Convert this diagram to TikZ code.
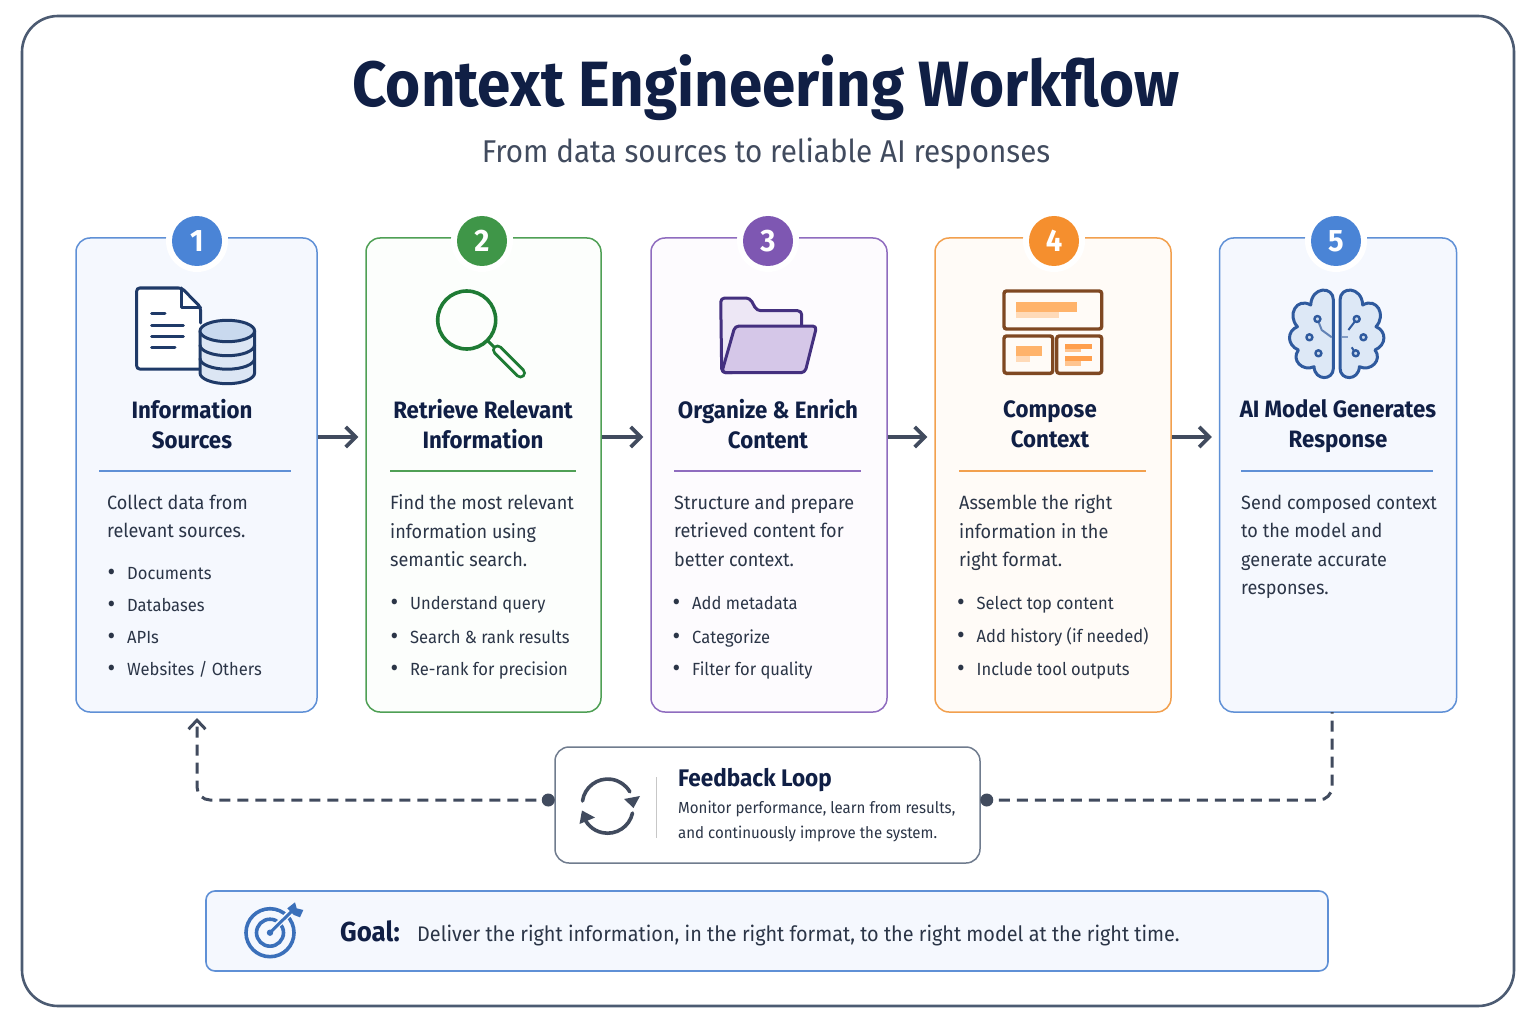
\documentclass[tikz,border=0pt]{standalone}
\usepackage{fontspec}
\setmainfont{Fira Sans}[FakeStretch=0.94]
\usetikzlibrary{arrows.meta,calc}
\definecolor{ink}{HTML}{101F45}
\definecolor{body}{HTML}{2B3547}
\definecolor{slate}{HTML}{414B5E}
\definecolor{frame}{HTML}{4C5B72}
\definecolor{cblue}{HTML}{5F90D6}
\definecolor{cgreen}{HTML}{4FA055}
\definecolor{cpurple}{HTML}{8F6CBF}
\definecolor{corange}{HTML}{F2A04E}
\definecolor{bblue}{HTML}{4A84D6}
\definecolor{bgreen}{HTML}{3F9648}
\definecolor{bpurple}{HTML}{7E57B2}
\definecolor{borange}{HTML}{F58F2E}
\definecolor{iconnavy}{HTML}{1F3A68}
\definecolor{icongreen}{HTML}{1E7B34}
\definecolor{iconpurple}{HTML}{44307F}
\definecolor{iconbrown}{HTML}{7F4822}
\definecolor{iconblue}{HTML}{2F5A9E}
\definecolor{goalblue}{HTML}{3B70BA}
\definecolor{fillblue}{HTML}{F5F8FE}
\definecolor{fillgreen}{HTML}{FCFEFC}
\definecolor{fillpurple}{HTML}{FDFBFE}
\definecolor{fillorange}{HTML}{FFFBF7}
\definecolor{barstrong}{HTML}{FFB36B}
\definecolor{barsoft}{HTML}{FFDAB8}
\definecolor{barmid}{HTML}{FF9F4D}
\definecolor{barpale}{HTML}{FFC48F}
\definecolor{folderback}{HTML}{EDE7F5}
\definecolor{folderfront}{HTML}{D5C7E8}
\definecolor{cylbody}{HTML}{DCE6F4}
\definecolor{cyltop}{HTML}{C9D9EE}
\definecolor{brainfill}{HTML}{DDE8F6}
\tikzset{
  x=1pt,y=-1pt,
  cardbox/.style={draw=#1,line width=1.5pt,rounded corners=14pt,inner sep=0},
  badge/.style={circle,fill=#1,minimum size=50pt,inner sep=0,text=white,font=\fontsize{31}{31}\selectfont\bfseries},
  halo/.style={circle,fill=white,minimum size=62pt,inner sep=0},
  head/.style={align=center,inner sep=0,text=ink,font=\fontsize{23.7}{30}\selectfont\bfseries,
    execute at begin node=\rule{0pt}{19pt},execute at end node=\rule[-7pt]{0pt}{7pt}},
  descr/.style={align=left,anchor=north west,inner sep=0,text=body,font=\fontsize{19.2}{28.6}\selectfont,
    execute at begin node=\rule{0pt}{16pt}},
  item/.style={anchor=base west,inner sep=0,text=body,font=\fontsize{17.6}{20}\selectfont},
  rule/.style={line width=1.5pt,draw=#1},
  flow/.style={draw=slate,line width=3.8pt,-{Straight Barb[length=10pt,width=20pt,line width=3.6pt]},shorten >=7pt},
  loopline/.style={draw=slate,line width=3pt,dash pattern=on 11pt off 7pt,rounded corners=13pt},
  endpoint/.style={circle,fill=slate,minimum size=13pt,inner sep=0},
}
\newcommand{\bitem}[4]{\node[item] (#1) at (#2,#3) {\makebox[19.5pt][l]{\raisebox{-1.5pt}{\fontsize{25}{20}\selectfont •}}#4};}
\begin{document}
\begin{tikzpicture}
\useasboundingbox (0,0) rectangle (1536,1024);
\fill[white] (0,0) rectangle (1536,1024);
\draw[frame,line width=2.6pt,fill=white,rounded corners=36pt] (22,16) rectangle (1514,1006);

\node[anchor=base,inner sep=0,text=ink,font=\fontsize{64}{64}\selectfont\bfseries] (title) at (766,107) {Context Engineering Workflow};
\node[anchor=base,inner sep=0,text=slate,font=\fontsize{31.5}{32}\selectfont] (subtitle) at (766,163) {From data sources to reliable AI responses};

% cards
\node[cardbox=cblue,fill=fillblue,minimum width=241pt,minimum height=474pt] (c1) at (196.5,475) {};
\node[cardbox=cgreen,fill=fillgreen,minimum width=235pt,minimum height=474pt] (c2) at (483.5,475) {};
\node[cardbox=cpurple,fill=fillpurple,minimum width=236pt,minimum height=474pt] (c3) at (769,475) {};
\node[cardbox=corange,fill=fillorange,minimum width=236pt,minimum height=474pt] (c4) at (1053,475) {};
\node[cardbox=cblue,fill=fillblue,minimum width=237pt,minimum height=474pt] (c5) at (1338,475) {};

% badges
\node[halo] (h1) at (197,241) {};
\node[halo] (h2) at (482,241) {};
\node[halo] (h3) at (768,241) {};
\node[halo] (h4) at (1054,241) {};
\node[halo] (h5) at (1336,241) {};
\node[badge=bblue] (b1) at (197,241) {1};
\node[badge=bgreen] (b2) at (482,241) {2};
\node[badge=bpurple] (b3) at (768,241) {3};
\node[badge=borange] (b4) at (1054,241) {4};
\node[badge=bblue] (b5) at (1336,241) {5};

% icon 1: document and database
\begin{scope}[line width=3pt,line join=round,line cap=round]
\draw[iconnavy,fill=white,rounded corners=3pt] (200.5,323) -- (200.5,307) -- (181.7,288) -- (136.7,288) -- (136.7,369) -- (199,369);
\draw[iconnavy] (181.7,288) -- (181.7,307) -- (200.5,307);
\draw[iconnavy] (151.7,313.3) -- (165,313.3) (151.7,325) -- (183.3,325) (151.7,336.3) -- (183.3,336.3) (151.7,347.3) -- (175,347.3);
\draw[iconnavy,fill=cylbody] (200,331) -- (200,373) arc[start angle=180,end angle=0,x radius=27.3,y radius=10.7] -- (254.6,331);
\draw[iconnavy,fill=cyltop] (227.3,331) ellipse[x radius=27.3,y radius=10.7];
\draw[iconnavy] (200,345) arc[start angle=180,end angle=0,x radius=27.3,y radius=10.7];
\draw[iconnavy] (200,358.5) arc[start angle=180,end angle=0,x radius=27.3,y radius=10.7];
\end{scope}

% icon 2: magnifier
\draw[icongreen,line width=3.6pt] (466.7,320) circle[radius=29];
\draw[icongreen,line width=3pt] (488,341) -- (498,351);
\draw[icongreen,line width=11pt,line cap=round] (497.5,350) -- (520.5,373);
\draw[white,line width=5pt,line cap=round] (497.5,350) -- (520.5,373);

% icon 3: folder
\begin{scope}[line width=3pt,line join=round]
\draw[iconpurple,fill=folderback,rounded corners=4pt] (721.7,372.7) -- (720.7,298) -- (750,298) -- (756.7,310.7) -- (801.7,310.7) -- (801.7,330) -- (735,372.7) -- cycle;
\draw[iconpurple,fill=folderfront,rounded corners=4pt] (735,326) -- (816.7,326) -- (805,372.7) -- (721.7,372.7) -- cycle;
\end{scope}

% icon 4: layout
\begin{scope}[line width=3.4pt]
\draw[iconbrown,rounded corners=2.5pt] (1004,291) rectangle (1101.7,329);
\draw[iconbrown,rounded corners=2.5pt] (1004,336) rectangle (1052.7,373.3);
\draw[iconbrown,rounded corners=2.5pt] (1056.7,336) rectangle (1101.7,373.3);
\end{scope}
\fill[barstrong] (1016,302.3) rectangle (1076.7,311.7);
\fill[barsoft] (1016,311.7) rectangle (1059.3,318.3);
\fill[barstrong] (1016,346) rectangle (1042.3,356);
\fill[barsoft] (1016,356) rectangle (1030,362.3);
\fill[barmid] (1065,344) rectangle (1092.3,349);
\fill[barpale] (1065,349) rectangle (1080.7,352.3);
\fill[barmid] (1065,356) rectangle (1092.3,360.7);
\fill[barpale] (1065,360.7) rectangle (1080.7,365.7);

% icon 5: brain
\begin{scope}[shift={(1336.7,0)},line width=3pt,line join=round]
\foreach \s in {1,-1}{
\begin{scope}[xscale=\s]
\draw[iconblue,fill=brainfill] (-3.3,300) .. controls (-3.3,286) and (-25,286) .. (-26,305)
  .. controls (-40,297) and (-50,315) .. (-39.3,326.7)
  .. controls (-50,331) and (-50,345) .. (-38.3,350)
  .. controls (-46,360) and (-34,372) .. (-22.7,366.7)
  .. controls (-22,381) and (-3.3,381) .. (-3.3,368) -- cycle;
\end{scope}}
\draw[iconblue!75,line width=2pt] (-19.3,319) -- (-15,330) -- (-5,337.3);
\draw[iconblue,line width=2pt] (20,319) -- (11.7,330);
\draw[iconblue!60,line width=2.4pt] (5,337) -- (11.7,337);
\draw[iconblue,line width=2pt] (19,353.3) -- (15,347.3);
\foreach \p in {(-19.3,319),(-27.3,337.3),(-18.3,353.3),(20,319),(26.7,337.3),(19,353.3)}{
  \draw[iconblue,fill=cyltop,line width=2.4pt] \p circle[radius=3];
}
\end{scope}

% headings
\node[head] (t1) at (192,427) {Information\\Sources};
\node[head] (t2) at (483,427) {Retrieve Relevant\\Information};
\node[head] (t3) at (768,427) {Organize \& Enrich\\Content};
\node[head] (t4) at (1050,428) {Compose\\Context};
\node[head] (t5) at (1338,427) {AI Model Generates\\Response};

\draw[rule=cblue] (99,471) -- (291,471);
\draw[rule=cgreen] (390,471) -- (576,471);
\draw[rule=cpurple] (674,471) -- (861,471);
\draw[rule=corange] (959,471) -- (1146,471);
\draw[rule=cblue] (1241,471) -- (1433,471);

% descriptions
\node[descr] (d1) at (107,494.5) {Collect data from\\relevant sources.};
\node[descr] (d2) at (390,494.5) {Find the most relevant\\information using\\semantic search.};
\node[descr] (d3) at (674,494.5) {Structure and prepare\\retrieved content for\\better context.};
\node[descr] (d4) at (959,494.5) {Assemble the right\\information in the\\right format.};
\node[descr] (d5) at (1241,494.5) {Send composed context\\to the model and\\generate accurate\\responses.};

% bullets
\bitem{i11}{107.5}{579}{Documents}
\bitem{i12}{107.5}{611}{Databases}
\bitem{i13}{107.5}{643}{APIs}
\bitem{i14}{107.5}{675}{Websites / Others}
\bitem{i21}{390.5}{609}{Understand query}
\bitem{i22}{390.5}{643}{Search \& rank results}
\bitem{i23}{390.5}{675}{Re-rank for precision}
\bitem{i31}{672.5}{609}{Add metadata}
\bitem{i32}{672.5}{643}{Categorize}
\bitem{i33}{672.5}{675}{Filter for quality}
\bitem{i41}{957}{609}{Select top content}
\bitem{i42}{957}{642}{Add history (if needed)}
\bitem{i43}{957}{675}{Include tool outputs}

% flow arrows
\coordinate (flowy) at (0,437);
\draw[flow] (c1.east |- flowy) -- (c2.west |- flowy);
\draw[flow] (c2.east |- flowy) -- (c3.west |- flowy);
\draw[flow] (c3.east |- flowy) -- (c4.west |- flowy);
\draw[flow] (c4.east |- flowy) -- (c5.west |- flowy);

% feedback
\node[draw=frame!80,line width=1.5pt,fill=white,rounded corners=14pt,minimum width=425pt,minimum height=116pt,inner sep=0] (fb) at (767.5,805) {};
\coordinate (fbl) at (fb.west |- 0,800);
\coordinate (fbr) at (fb.east |- 0,800);
\coordinate (c1b) at (197,712);
\coordinate (c5b) at (1332,712);
\draw[loopline,-{Straight Barb[length=9pt,width=17pt,line width=3pt]},shorten >=6pt] (fbl) -| (c1b);
\draw[loopline] (fbr) -| (c5b);
\node[endpoint,xshift=-6pt] (dl) at (fbl) {};
\node[endpoint,xshift=6pt] (dr) at (fbr) {};

\begin{scope}[line width=3.6pt,line cap=round]
\draw[slate] (582.5,801) arc[start angle=-172,end angle=-30,radius=25.5];
\draw[slate] (632.5,813) arc[start angle=12,end angle=165,radius=25.5];
\fill[slate] (624,799) -- (640,796) -- (633.5,808) -- cycle;
\fill[slate] (582,810.5) -- (579.5,824) -- (595,817.5) -- cycle;
\end{scope}
\draw[black!22,line width=1.2pt] (656.7,777) -- (656.7,838);
\node[item,text=ink,font=\fontsize{24}{26}\selectfont\bfseries] (fbt) at (678,786) {Feedback Loop};
\node[item,font=\fontsize{16}{18}\selectfont] (fb1) at (678,813) {Monitor performance, learn from results,};
\node[item,font=\fontsize{16}{18}\selectfont] (fb2) at (678,838) {and continuously improve the system.};

% goal
\node[draw=cblue,line width=1.6pt,fill=fillblue,rounded corners=9pt,minimum width=1122pt,minimum height=80pt,inner sep=0] (goal) at (767,931) {};
\draw[goalblue,line width=3.6pt] (270,932.7) circle[radius=24];
\draw[goalblue,line width=3.6pt] (270,932.7) circle[radius=13.5];
\fill[goalblue] (270,932.7) circle[radius=3.2];
\draw[fillblue,line width=6pt] (274,928) -- (295,908);
\draw[goalblue,line width=3pt] (270,932.7) -- (295,908);
\fill[goalblue] (287.3,908.3) -- (295,902.3) -- (296.7,908.3) -- (303.3,910) -- (300,917.3) -- (294,915) -- cycle;
\node[item,text=ink,font=\fontsize{27.5}{30}\selectfont\bfseries] (gl) at (340,941) {Goal:};
\node[item,font=\fontsize{21.1}{26}\selectfont] (gt) at (417,941) {Deliver the right information, in the right format, to the right model at the right time.};
\end{tikzpicture}
\end{document}
